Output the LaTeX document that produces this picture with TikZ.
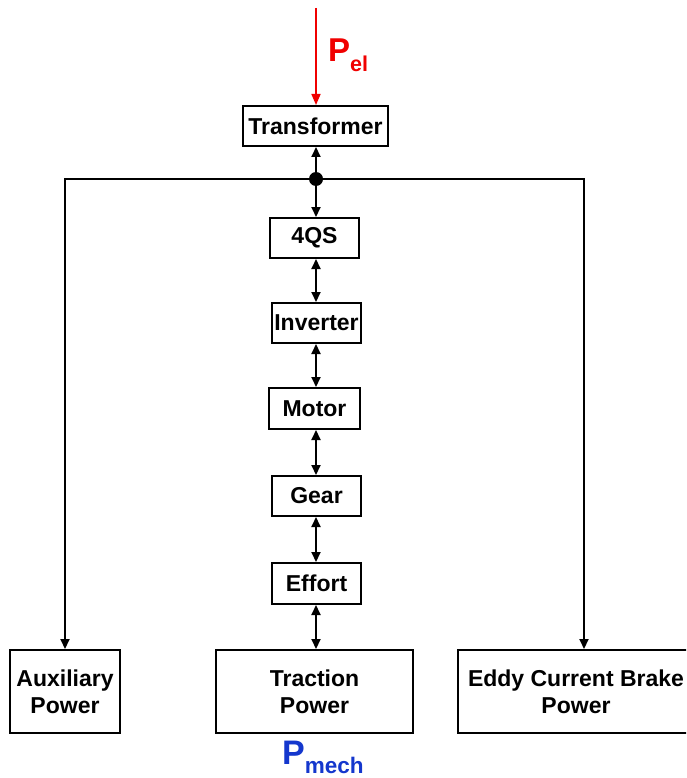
\documentclass[tikz,border=0pt]{standalone}
\usepackage{fontspec}
\setmainfont{Liberation Sans}
\usetikzlibrary{arrows.meta}
\definecolor{pelred}{RGB}{240,0,0}
\definecolor{pmechblue}{RGB}{20,55,205}
\tikzset{
  blk/.style={draw=black, line width=2pt, fill=white, inner sep=0pt, align=center,
    font=\fontsize{23}{27}\selectfont\bfseries},
  conn/.style={line width=2pt, -{Triangle[length=10pt,width=9pt]}},
  biconn/.style={line width=2pt, {Triangle[length=10pt,width=9pt]}-{Triangle[length=10pt,width=9pt]}},
  powlabel/.style={inner sep=0pt, anchor=base west}
}
\begin{document}
\begin{tikzpicture}[x=1pt,y=-1pt]
\useasboundingbox (0,0) rectangle (686,778);
\clip (0,0) rectangle (686,778);
\fill[white] (0,0) rectangle (686,778);
% blocks
\node[blk, minimum width=145pt, minimum height=40pt] (trans) at (315.5,126) {Transformer};
\node[blk, minimum width=89pt, minimum height=40pt] (q4) at (314.5,238) {4QS};
\node[blk, minimum width=89pt, minimum height=40pt] (inv) at (316.5,323) {Inverter};
\node[blk, minimum width=91pt, minimum height=41pt] (mot) at (314.5,408.5) {Motor};
\node[blk, minimum width=89pt, minimum height=40pt] (gear) at (316.5,496) {Gear};
\node[blk, minimum width=89pt, minimum height=41pt] (eff) at (316.5,583.5) {Effort};
\node[blk, minimum width=110pt, minimum height=83pt] (aux) at (65,691.5) {Auxiliary\\Power};
\node[blk, minimum width=197pt, minimum height=83pt] (trac) at (314.5,691.5) {Traction\\Power};
\node[blk, minimum width=236pt, minimum height=83pt] (eddy) at (576,691.5) {Eddy Current Brake\\Power};
% junction and helper coordinates
\coordinate (junc) at (316,179);
\coordinate (pin) at (316,8);
\coordinate (ex) at (584,179);
% red input arrow
\draw[line width=1.6pt, draw=pelred, -{Triangle[length=11pt,width=9pt]}, color=pelred] (pin) -- (pin |- trans.north);
% chain
\draw[biconn] (junc |- trans.south) -- (junc |- q4.north);
\draw[biconn] (junc |- q4.south) -- (junc |- inv.north);
\draw[biconn] (junc |- inv.south) -- (junc |- mot.north);
\draw[biconn] (junc |- mot.south) -- (junc |- gear.north);
\draw[biconn] (junc |- gear.south) -- (junc |- eff.north);
\draw[biconn] (junc |- eff.south) -- (junc |- trac.north);
% branches
\draw[conn] (junc) -| (aux.north);
\draw[conn] (junc) -- (ex) -- (ex |- eddy.north);
\fill[black] (junc) circle (7pt);
% power labels
\node[powlabel, text=pelred] (pel) at (328,62)
  {\bfseries\fontsize{33}{33}\selectfont P\raisebox{-10pt}{\fontsize{21.5}{21.5}\selectfont el}};
\node[powlabel, text=pmechblue] (pmech) at (282,764)
  {\bfseries\fontsize{34}{34}\selectfont P\raisebox{-9pt}{\fontsize{22.5}{22.5}\selectfont mech}};
\end{tikzpicture}
\end{document}
